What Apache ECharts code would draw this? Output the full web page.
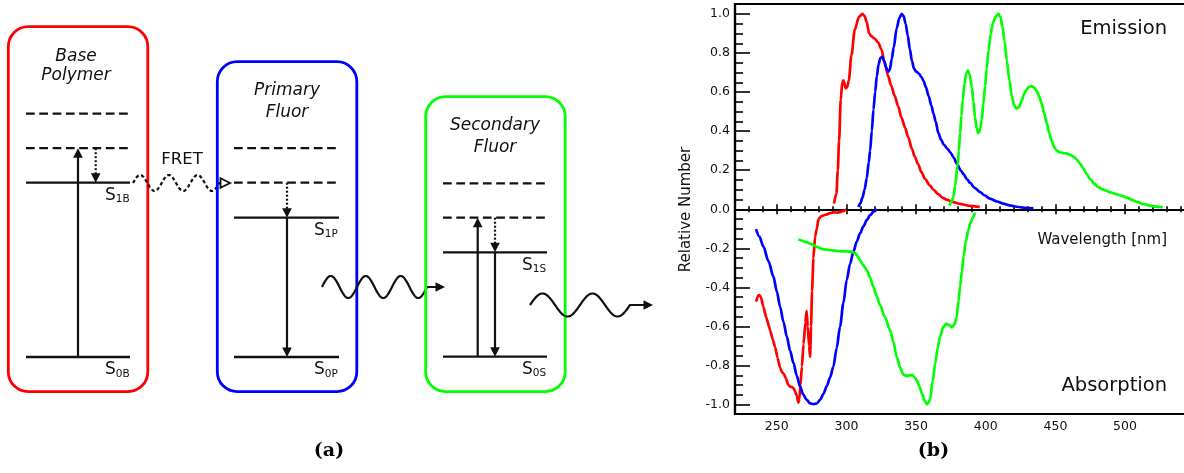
<!DOCTYPE html>
<html>
<head>
<meta charset="utf-8">
<script src="https://cdn.jsdelivr.net/npm/echarts@6/dist/echarts.min.js"></script>
<style>
  html, body { margin: 0; padding: 0; background: #fff; }
  #chart { width: 1184px; height: 473px; }
</style>
</head>
<body>
<div id="chart"></div>
<script>
// ---- Spectra (wavelength in nm, relative number) ----
const redEmission = [
  [291.1,0.03],[292.8,0.08],[293.8,0.2],[294.7,0.35],[295.9,0.56],[297.0,0.65],[297.8,0.66],
  [299.5,0.62],[300.5,0.625],[301.7,0.66],[303.6,0.79],[306,0.92],[309,0.985],[311.5,1.0],
  [313,0.99],[314.5,0.96],[316.3,0.9],[318,0.885],[320,0.875],[322.7,0.855],[325,0.82],
  [327.5,0.75],[330,0.68],[332,0.635],[334.7,0.58],[337,0.53],[339.5,0.47],[342,0.42],
  [344.3,0.37],[347,0.31],[349,0.27],[351.5,0.23],[353.8,0.19],[356.5,0.155],[359.8,0.123],
  [362.5,0.1],[365.8,0.078],[369,0.06],[371.8,0.05],[376,0.038],[381.3,0.028],[388,0.018],[395.7,0.012]
];
const blueEmission = [
  [308.6,0.012],[310,0.03],[311.5,0.06],[313,0.1],[314.6,0.16],[316,0.24],[317,0.3],[318.2,0.4],
  [319.4,0.51],[320.6,0.6],[321.8,0.68],[323,0.74],[324.4,0.775],[325.8,0.78],[327,0.76],
  [328.5,0.725],[330,0.705],[331.2,0.715],[332.5,0.77],[334,0.83],[336,0.925],[338,0.98],
  [339.7,1.0],[341,0.99],[342.5,0.95],[344,0.89],[345.5,0.82],[347,0.76],[348.5,0.72],
  [350,0.705],[352,0.695],[354,0.675],[355.5,0.655],[357,0.625],[359,0.58],[361,0.53],
  [362.5,0.49],[364,0.45],[366,0.39],[368,0.355],[370,0.33],[372.5,0.31],[374.4,0.293],
  [377,0.265],[379.2,0.234],[382,0.2],[384,0.18],[386.5,0.155],[388.8,0.135],[392,0.11],
  [396,0.088],[399,0.072],[403,0.055],[408,0.04],[412.7,0.029],[417,0.02],[422.2,0.013],
  [428,0.008],[434.2,0.005]
];
const greenEmission = [
  [373.9,0.02],[375.5,0.04],[376.8,0.065],[378,0.12],[379.7,0.22],[380.7,0.3],[381.6,0.39],
  [382.5,0.48],[383.5,0.56],[384.7,0.64],[385.9,0.695],[387.2,0.71],[388.5,0.69],[390,0.625],
  [391.2,0.55],[392.3,0.47],[393.5,0.415],[394.7,0.39],[395.8,0.405],[397.1,0.46],[398.3,0.54],
  [399.5,0.63],[400.7,0.72],[401.9,0.81],[403.5,0.895],[405,0.952],[407,0.985],[409,1.0],
  [410.5,0.985],[412,0.935],[413.5,0.86],[415.1,0.765],[417,0.66],[418.7,0.58],[420.5,0.53],
  [422.2,0.515],[424,0.525],[425.8,0.555],[427.5,0.59],[429.4,0.613],[431,0.627],[433,0.63],
  [435,0.622],[436.6,0.605],[438.5,0.575],[440.2,0.54],[442,0.49],[443.8,0.44],[445.6,0.39],
  [447.4,0.35],[449,0.32],[451,0.3],[453,0.292],[455.7,0.288],[458,0.286],[460.5,0.28],
  [463,0.27],[465.3,0.255],[467.5,0.235],[470.1,0.209],[472.5,0.18],[474.9,0.155],[478,0.13],
  [480.9,0.113],[484,0.102],[486.8,0.094],[490,0.086],[494,0.077],[498,0.068],[501.2,0.06],
  [505,0.048],[508.4,0.038],[513,0.027],[518,0.019],[522,0.014],[527,0.011]
];
const redAbsorption = [
  [235.2,-0.473],[236.2,-0.448],[237.3,-0.439],[238.5,-0.447],[240.4,-0.5],[242.5,-0.555],
  [245.2,-0.618],[247,-0.665],[248.8,-0.705],[250.5,-0.76],[252.4,-0.812],[253.8,-0.835],
  [255,-0.842],[256.5,-0.865],[258.3,-0.9],[259.6,-0.908],[261,-0.91],[262.3,-0.918],
  [263.3,-0.935],[264.3,-0.955],[265.5,-0.99],[266.2,-0.97],[267,-0.9],[268,-0.806],
  [269.2,-0.69],[270.5,-0.58],[271.4,-0.52],[272.2,-0.6],[273.2,-0.7],[273.9,-0.755],
  [274.6,-0.6],[275.3,-0.42],[276.3,-0.25],[277.5,-0.14],[278.7,-0.1],[279.9,-0.05],
  [282,-0.035],[285,-0.028],[288.3,-0.02],[291,-0.016],[293.5,-0.017],[295.5,-0.014],
  [297.8,-0.009],[299.8,0.0]
];
const blueAbsorption = [
  [235.1,-0.102],[237.5,-0.14],[240.4,-0.191],[244,-0.265],[247.6,-0.345],[250,-0.42],
  [252.4,-0.499],[254.8,-0.577],[257.2,-0.652],[259.6,-0.725],[262,-0.788],[264.4,-0.853],
  [266.7,-0.908],[269,-0.948],[271.5,-0.976],[274,-0.994],[276.3,-0.998],[278.7,-0.994],
  [281.1,-0.975],[283.5,-0.945],[285.9,-0.905],[288.3,-0.86],[290.6,-0.806],[293,-0.71],
  [295.4,-0.6],[297.8,-0.48],[300.2,-0.362],[302.6,-0.28],[305,-0.217],[307.4,-0.165],
  [309.8,-0.123],[312.2,-0.087],[314.6,-0.055],[317,-0.03],[319.4,-0.012],[321.8,0.0]
];
const greenAbsorption = [
  [265.5,-0.154],[268,-0.16],[271,-0.168],[274,-0.176],[276.3,-0.183],[279,-0.193],
  [282.3,-0.203],[286,-0.207],[290,-0.21],[293.1,-0.213],[297,-0.215],[300,-0.216],
  [302.6,-0.217],[304.5,-0.219],[306.2,-0.224],[308,-0.24],[309.8,-0.262],[312,-0.285],
  [314.6,-0.311],[317,-0.35],[319.3,-0.396],[321.7,-0.445],[324.1,-0.49],[327.5,-0.55],
  [331.3,-0.618],[333.7,-0.68],[336.1,-0.755],[338.5,-0.81],[340.9,-0.846],[343,-0.853],
  [345,-0.85],[346.9,-0.848],[348.7,-0.858],[350.5,-0.876],[352.3,-0.905],[354.1,-0.942],
  [356,-0.978],[357.7,-0.998],[359,-0.99],[360.1,-0.97],[361.9,-0.88],[363.7,-0.788],
  [365.5,-0.71],[367.2,-0.652],[369.3,-0.605],[371.5,-0.587],[373.5,-0.592],[375.6,-0.604],
  [377.5,-0.59],[379.2,-0.55],[380.4,-0.47],[381.6,-0.396],[382.8,-0.32],[384,-0.243],
  [385.7,-0.165],[387.5,-0.106],[389,-0.07],[390.5,-0.045],[392.3,-0.017]
];

// axis ranges, tick steps and labelled wavelengths
const xRange = [220, 553.8];
const yRange = [-1.048, 1.051];
const xLabelStep = 50;
const xLabelMax = 500;
const yLabelStep = 0.2;

const RED = '#ff0000', BLUE = '#0000ff', GREEN = '#00ff00';
const SANS = '"DejaVu Sans", Verdana, sans-serif';
const INK = '#111';

// ---- Jablonski diagram (panel a) ----
const G = [];
function seg(x1, y1, x2, y2, dash, w) {
  G.push({ type: 'line', silent: true,
    shape: { x1, y1, x2, y2 },
    style: { stroke: INK, lineWidth: w || 2.3, lineDash: dash || null } });
}
function head(x, y, dir, filled) {
  // tip at (x, y); dir = 'up' | 'down' | 'right'
  const L = 9.5, H = 4.8;
  let pts;
  if (dir === 'up') pts = [[x, y], [x - H, y + L], [x + H, y + L]];
  else if (dir === 'down') pts = [[x, y], [x - H, y - L], [x + H, y - L]];
  else pts = [[x, y], [x - L, y - H], [x - L, y + H]];
  G.push({ type: 'polygon', silent: true, shape: { points: pts },
    style: filled ? { fill: INK } : { fill: '#fff', stroke: INK, lineWidth: 1.9 } });
}
function arrow(x, from, to, dotted) {
  const dir = to < from ? 'up' : 'down';
  const end = dir === 'up' ? to + 8 : to - 8;
  seg(x, from, x, end, dotted ? [2, 2] : null, 2.2);
  head(x, to, dir, true);
}
function wave(x0, periods, period, yc, amp, tipX, dash, filled) {
  const pts = [];
  const x1 = x0 + periods * period;
  for (let x = x0; x <= x1 + 1e-6; x += 0.5) {
    pts.push([x, yc - amp * Math.sin(2 * Math.PI * (x - x0) / period)]);
  }
  pts.push([tipX - 9, yc]);
  G.push({ type: 'polyline', silent: true, shape: { points: pts },
    style: { stroke: INK, lineWidth: 2.2, fill: null, lineDash: dash || null } });
  head(tipX, yc, 'right', filled);
}
function txt(x, y, s, size, extra) {
  G.push(Object.assign({ type: 'text', silent: true, x, y,
    style: Object.assign({ text: s, fontSize: size, fontFamily: SANS, fill: INK,
      align: 'center', verticalAlign: 'middle' }, (extra && extra.style) || {}) },
    extra && extra.rotation ? { rotation: extra.rotation } : {}));
}
function stateLabel(rightX, levelY, sub) {
  txt(rightX - 25, levelY + 12.8, 'S', 17, { style: { align: 'left' } });
  txt(rightX - 14.2, levelY + 16.9, sub, 10.5, { style: { align: 'left' } });
}
function box(x, y, h, color) {
  G.push({ type: 'rect', silent: true, shape: { x, y, width: 139.5, height: h, r: 20 },
    style: { fill: null, stroke: color, lineWidth: 2.8 } });
}
const DASH = [8.7, 4.6];

// Base polymer
box(8.3, 26.7, 365, RED);
txt(76, 56.7, 'Base', 17, { style: { fontStyle: 'italic' } });
txt(76, 75.7, 'Polymer', 17, { style: { fontStyle: 'italic' } });
seg(26, 113.7, 130, 113.7, DASH);
seg(26, 148.2, 130, 148.2, DASH);
seg(26, 182.7, 130, 182.7);
seg(26, 357, 130, 357);
arrow(78, 357, 148.2, false);
arrow(95.7, 148.2, 182.7, true);
stateLabel(130, 182.7, '1B');
stateLabel(130, 357, '0B');

// FRET transfer
txt(182, 159.5, 'FRET', 16.5);
wave(133, 3, 28.7, 183, 8, 230, [3.5, 2.5], false);

// Primary fluor
box(217.3, 61.7, 330, BLUE);
txt(287, 90.7, 'Primary', 17, { style: { fontStyle: 'italic' } });
txt(287, 112.3, 'Fluor', 17, { style: { fontStyle: 'italic' } });
seg(234, 148.2, 339, 148.2, DASH);
seg(234, 182.7, 339, 182.7, DASH);
seg(234, 217.7, 339, 217.7);
seg(234, 357, 339, 357);
arrow(287, 182.7, 217.7, true);
arrow(287, 217.7, 357, false);
stateLabel(339, 217.7, '1P');
stateLabel(339, 357, '0P');

// photon from primary to secondary
wave(322, 3, 35, 287, 11, 445, null, true);

// Secondary fluor
box(425.7, 96.7, 295, GREEN);
txt(495, 125.7, 'Secondary', 17, { style: { fontStyle: 'italic' } });
txt(495, 147.3, 'Fluor', 17, { style: { fontStyle: 'italic' } });
seg(443, 183.3, 547, 183.3, DASH);
seg(443, 217.7, 547, 217.7, DASH);
seg(443, 252.3, 547, 252.3);
seg(443, 356.7, 547, 356.7);
arrow(477.7, 356.7, 217.7, false);
arrow(495, 217.7, 252.3, true);
arrow(495, 252.3, 356.7, false);
stateLabel(547, 252.3, '1S');
stateLabel(547, 356.7, '0S');

// emitted photon
wave(530, 2, 50, 305, 11.5, 653, null, true);

// panel captions
txt(329, 451, '(a)', 19, { style: { fontFamily: '"DejaVu Serif", serif', fontWeight: 'bold', fill: '#000' } });
txt(933.5, 451, '(b)', 19, { style: { fontFamily: '"DejaVu Serif", serif', fontWeight: 'bold', fill: '#000' } });

// ---- spectra panel texts ----
txt(1167, 29, 'Emission', 19.5, { style: { align: 'right' } });
txt(1167, 386.3, 'Absorption', 19.5, { style: { align: 'right' } });
txt(1167, 240.3, 'Wavelength [nm]', 15, { style: { align: 'right' } });
txt(686.5, 209.5, 'Relative Number', 15, { rotation: Math.PI / 2 });

// ---- chart ----
function onStep(v, step) {
  const k = v / step;
  return Math.abs(k - Math.round(k)) < 1e-6;
}
const tickLine = { color: '#000', width: 1.6 };
function xAxisDef(pos, withLabels) {
  return {
    type: 'value', position: pos, min: xRange[0], max: xRange[1], splitNumber: 6,
    axisLine: { show: true, onZero: true, onZeroAxisIndex: 0, lineStyle: { color: '#000', width: 2.2 } },
    axisTick: { show: true, inside: false, length: 5, lineStyle: tickLine },
    minorTick: { show: true, splitNumber: 5, length: 3, lineStyle: tickLine },
    splitLine: { show: false }, minorSplitLine: { show: false },
    axisLabel: {
      show: withLabels, margin: 6, fontSize: 12.5, fontFamily: SANS, color: INK,
      formatter: v => (onStep(v, xLabelStep) && v <= xLabelMax ? String(Math.round(v)) : '')
    }
  };
}
function lineSeries(data, color, smooth) {
  return {
    type: 'line', data, xAxisIndex: 0, yAxisIndex: 0,
    showSymbol: false, symbol: 'none', smooth: smooth, smoothMonotone: 'x',
    lineStyle: { color, width: 2.7 }, itemStyle: { color },
    silent: true, animation: false
  };
}

const chart = echarts.init(document.getElementById('chart'), null, { renderer: 'canvas' });
chart.setOption({
  animation: false,
  backgroundColor: '#fff',
  grid: { left: 735, top: 4, right: -16, bottom: 59, show: true, borderColor: '#000', borderWidth: 2.2,
          containLabel: false, outerBoundsMode: 'none' },
  xAxis: [xAxisDef('bottom', true), xAxisDef('top', false)],
  yAxis: {
    type: 'value', min: yRange[0], max: yRange[1], splitNumber: 10,
    axisLine: { show: true, onZero: false, lineStyle: { color: '#000', width: 2.2 } },
    axisTick: { show: true, inside: true, length: 15, lineStyle: tickLine },
    minorTick: { show: true, splitNumber: 4, length: 8, lineStyle: tickLine },
    splitLine: { show: false }, minorSplitLine: { show: false },
    axisLabel: {
      margin: 5, fontSize: 12.5, fontFamily: SANS, color: INK,
      formatter: v => (onStep(v, yLabelStep) ? (Math.abs(v) < 1e-9 ? '0.0' : v.toFixed(1)) : '')
    }
  },
  series: [
    lineSeries(redEmission, RED, 0.3),
    lineSeries(blueEmission, BLUE, 0.3),
    lineSeries(greenEmission, GREEN, 0.3),
    lineSeries(redAbsorption, RED, 0.15),
    lineSeries(blueAbsorption, BLUE, 0.3),
    lineSeries(greenAbsorption, GREEN, 0.3)
  ],
  graphic: { elements: G }
});
</script>
</body>
</html>
